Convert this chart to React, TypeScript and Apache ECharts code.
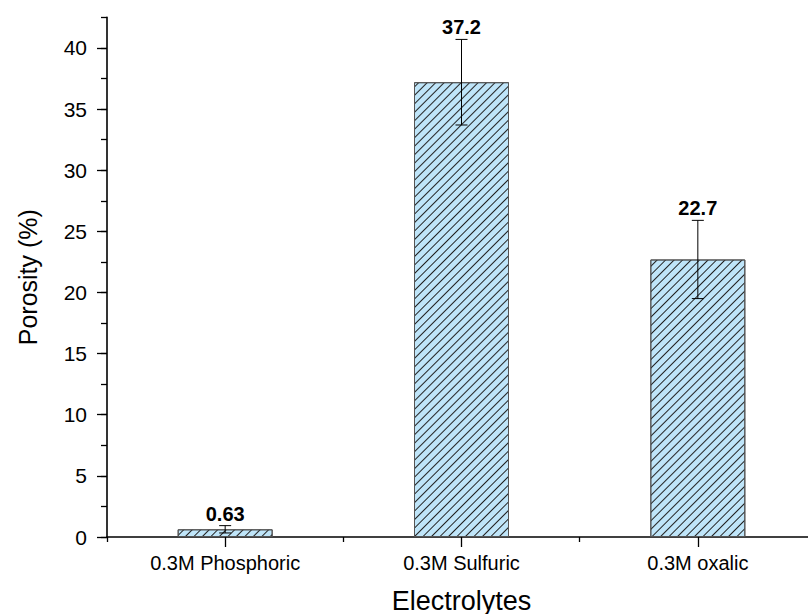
import React, { useEffect, useRef } from "react";
import * as echarts from "echarts";

const categories = ["0.3M Phosphoric", "0.3M Sulfuric", "0.3M oxalic"];
const porosity = [0.63, 37.2, 22.7];
const porosityErr = [0.3, 3.5, 3.2];
const majorTicks = [0, 5, 10, 15, 20, 25, 30, 35, 40];

const FONT = 'Arial, "Liberation Sans", sans-serif';

export default function App() {
  const ref = useRef<HTMLDivElement>(null);
  useEffect(() => {
    if (!ref.current) return;
    const chart = echarts.init(ref.current, null, { renderer: "svg" });
    const axisColor = "#000";
    chart.setOption({
      animation: false,
      backgroundColor: "#fff",
      textStyle: { fontFamily: FONT, color: "#000" },
      grid: { left: 107, right: -8, top: 17.4, bottom: 77, containLabel: false, outerBoundsMode: "none" },
      xAxis: [
        {
          type: "category",
          data: categories,
          position: "bottom",
          axisLine: { show: true, lineStyle: { color: axisColor, width: 1.6 } },
          axisTick: { show: true, alignWithLabel: true, length: 10, lineStyle: { color: axisColor, width: 1.3 } },
          axisLabel: { color: "#000", fontSize: 20, margin: 16, fontFamily: FONT },
          name: "Electrolytes",
          nameLocation: "middle",
          nameGap: 50,
          nameTextStyle: { fontSize: 27, color: "#000", fontFamily: FONT },
        },
        {
          type: "category",
          data: categories,
          position: "bottom",
          axisLine: { show: false },
          axisTick: { show: true, length: 5, lineStyle: { color: axisColor, width: 1.3 } },
          axisLabel: { show: false },
        },
      ],
      yAxis: [
        {
          type: "value",
          min: 0,
          max: 42.5,
          interval: 5,
          position: "left",
          axisLine: { show: true, lineStyle: { color: axisColor, width: 1.6 } },
          axisTick: { show: true, length: 10, lineStyle: { color: axisColor, width: 1.3 }, customValues: majorTicks },
          axisLabel: { color: "#000", fontSize: 21, margin: 20, fontFamily: FONT, customValues: majorTicks },
          splitLine: { show: false },
          name: "Porosity (%)",
          nameLocation: "middle",
          nameGap: 67,
          nameTextStyle: { fontSize: 25, color: "#000", fontFamily: FONT },
        },
        {
          type: "value",
          min: 0,
          max: 42.5,
          interval: 2.5,
          position: "left",
          axisLine: { show: false },
          axisTick: { show: true, length: 6, lineStyle: { color: axisColor, width: 1.3 } },
          axisLabel: { show: false },
          splitLine: { show: false },
        },
      ],
      series: [
        {
          type: "bar",
          xAxisIndex: 0,
          yAxisIndex: 0,
          data: porosity,
          barWidth: 95,
          itemStyle: {
            color: "#bfe5f9",
            borderColor: "#555",
            borderWidth: 1,
            decal: {
              symbol: "rect",
              symbolSize: 1,
              color: "#222",
              dashArrayX: [1, 0],
              dashArrayY: [1, 4.5],
              rotation: -Math.PI / 4,
            },
          },
          z: 2,
        },
        {
          type: "custom",
          xAxisIndex: 0,
          yAxisIndex: 0,
          data: porosity.map((v, i) => [i, v, porosityErr[i]]),
          encode: { x: 0, y: 1 },
          z: 5,
          renderItem: (params: any, api: any) => {
            const idx = api.value(0);
            const v = api.value(1);
            const e = api.value(2);
            const top = api.coord([idx, v + e]);
            const bot = api.coord([idx, v - e]);
            const cap = 6;
            const stroke = { stroke: "#000", lineWidth: 1 };
            return {
              type: "group",
              children: [
                { type: "line", shape: { x1: top[0], y1: top[1], x2: bot[0], y2: bot[1] }, style: stroke },
                { type: "line", shape: { x1: top[0] - cap, y1: top[1], x2: top[0] + cap, y2: top[1] }, style: stroke },
                { type: "line", shape: { x1: bot[0] - cap, y1: bot[1], x2: bot[0] + cap, y2: bot[1] }, style: stroke },
                {
                  type: "text",
                  x: top[0],
                  y: top[1] - 12,
                  style: {
                    text: String(porosity[params.dataIndex]),
                    fontSize: 20,
                    fontWeight: "bold",
                    fontFamily: FONT,
                    fill: "#000",
                    align: "center",
                    verticalAlign: "middle",
                  },
                },
              ],
            };
          },
        },
      ],
    });
    return () => chart.dispose();
  }, []);
  return (
    <div
      ref={ref}
      style={{ position: "absolute", left: 0, top: 0, width: 808, height: 614 }}
    />
  );
}
